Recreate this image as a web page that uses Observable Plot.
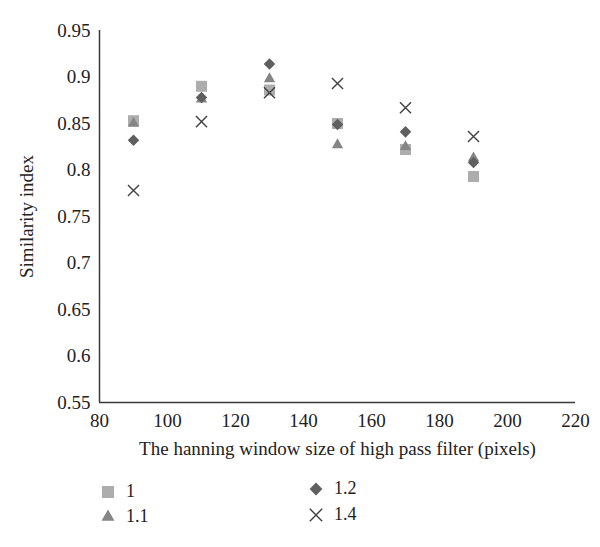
<!DOCTYPE html>
<html><head><meta charset="utf-8">
<script src="https://cdn.jsdelivr.net/npm/d3@7"></script>
<script src="https://cdn.jsdelivr.net/npm/@observablehq/plot@0.6"></script>
<style>
body{margin:0;background:#fff;font-family:"Liberation Serif","Times New Roman",serif;color:#222}
#chart svg text{font-size:19px;font-family:"Liberation Serif","Times New Roman",serif}
#legend{position:relative;width:600px;height:77px}
.item{position:absolute;display:flex;align-items:center;font-size:18px}
.item svg{margin-right:10px}
</style>
</head><body><div id="chart"></div><div id="legend"></div><script>
const windowSizes = [90, 110, 130, 150, 170, 190];
const seriesNames = ["1", "1.1", "1.2", "1.4"];
const series1 = [0.853, 0.890, 0.886, 0.850, 0.822, 0.793];
const series11 = [0.850, 0.876, 0.898, 0.827, 0.825, 0.813];
const series12 = [0.832, 0.878, 0.914, 0.849, 0.841, 0.808];
const series14 = [0.778, 0.852, 0.883, 0.893, 0.867, 0.836];
const yTicks = [0.55, 0.6, 0.65, 0.7, 0.75, 0.8, 0.85, 0.9, 0.95];
const xTicks = [80, 100, 120, 140, 160, 180, 200, 220];

const styles = [
  {symbol: "square", color: "#adadad", r: 6.2, filled: true},
  {symbol: "triangle", color: "#858585", r: 4.2, filled: true},
  {symbol: "diamond2", color: "#5f5f5f", r: 5.2, filled: true},
  {symbol: "times", color: "#404040", r: 5.1, filled: false}
];
const allValues = [series1, series11, series12, series14];

const dotMarks = allValues.map((vals, i) => {
  const st = styles[i];
  const data = windowSizes.map((w, j) => ({w, v: vals[j], s: seriesNames[i]}));
  return Plot.dot(data, st.filled
    ? {x: "w", y: "v", symbol: () => st.symbol, fill: st.color, stroke: "none", r: st.r}
    : {x: "w", y: "v", symbol: () => st.symbol, stroke: st.color, fill: "none", strokeWidth: 1.4, r: st.r});
});

const chart = Plot.plot({
  width: 600, height: 470,
  marginLeft: 99, marginRight: 25, marginTop: 30, marginBottom: 68,
  style: {fontFamily: '"Liberation Serif","Times New Roman",serif', fontSize: "19px", color: "#222", background: "#fff"},
  x: {domain: [80, 220]},
  y: {domain: [0.55, 0.95]},
  symbol: {type: "identity"},
  marks: [
    Plot.axisX({ticks: xTicks, tickSize: 0, tickPadding: 11, fontSize: 19, label: null}),
    Plot.axisX({ticks: [], tickSize: 0, fontSize: 19,
      label: "The hanning window size of high pass filter (pixels)", labelAnchor: "center", labelOffset: 52, labelArrow: "none"}),
    Plot.axisY({ticks: yTicks, tickSize: 0, tickPadding: 9, fontSize: 19, tickFormat: d => String(+d.toFixed(2)), label: null}),
    Plot.axisY({ticks: [], tickSize: 0, fontSize: 19,
      label: "Similarity index", labelAnchor: "center", labelOffset: 80, labelArrow: "none"}),
    Plot.ruleX([80], {stroke: "#3a3a3a", strokeWidth: 1.5}),
    Plot.ruleY([0.55], {stroke: "#3a3a3a", strokeWidth: 1.5}),
    ...dotMarks
  ]
});
document.getElementById("chart").appendChild(chart);

// legend
const legendPos = [[100, 11], [100, 36], [308, 8], [308, 34]];
const legend = d3.select("#legend");
seriesNames.forEach((name, i) => {
  const st = styles[i];
  const item = legend.append("div").attr("class", "item")
    .style("left", legendPos[i][0] + "px").style("top", legendPos[i][1] + "px");
  const svg = item.append("svg").attr("width", 16).attr("height", 16);
  const symType = {square: d3.symbolSquare, triangle: d3.symbolTriangle, diamond2: d3.symbolDiamond2, times: d3.symbolTimes}[st.symbol];
  const size = Math.PI * (st.r + 0.6) * (st.r + 0.6);
  svg.append("path").attr("transform", "translate(8,8)")
    .attr("d", d3.symbol(symType, size)())
    .attr("fill", st.filled ? st.color : "none")
    .attr("stroke", st.filled ? "none" : st.color)
    .attr("stroke-width", 1.4);
  item.append("span").text(name);
});
</script></body></html>
